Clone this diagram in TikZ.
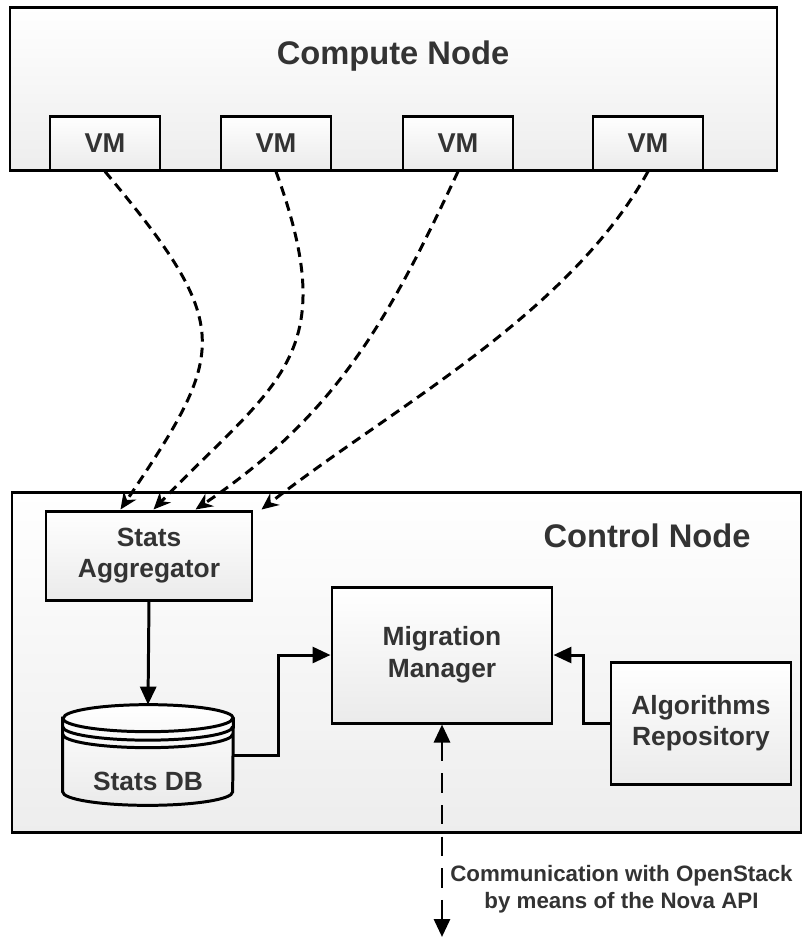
\documentclass[tikz,border=0pt]{standalone}
\usepackage{fontspec}
\setmainfont{Liberation Sans}
\usepackage{xcolor}
\usepackage{tikz}
\usetikzlibrary{arrows.meta,positioning,calc}

\definecolor{txt}{HTML}{333333}

\begin{document}
\begin{tikzpicture}[
  outer/.style={draw, line width=1.7pt, top color=white, bottom color=black!7,
    inner sep=0pt},
  box/.style={draw, line width=1.7pt, top color=white, bottom color=black!8,
    font=\fontsize{15}{18}\selectfont\bfseries, text=txt, align=center,
    inner sep=0pt},
  title/.style={font=\fontsize{18.6}{22}\selectfont\bfseries, text=txt},
  vm/.style={box, minimum width=22mm, minimum height=10.8mm,
    font=\fontsize{15.5}{18}\selectfont\bfseries},
  dbtext/.style={font=\fontsize{15}{18}\selectfont\bfseries, text=txt},
  feed/.style={line width=1.7pt, dash pattern=on 5.5pt off 3.5pt,
    -{Stealth[length=3.4mm,width=3mm]}},
  flow/.style={line width=1.7pt, -{Triangle[length=3.6mm,width=3.2mm]}},
  api/.style={font=\fontsize{12.7}{15.4}\selectfont\bfseries, text=txt,
    align=center, inner sep=0pt},
]
\useasboundingbox (0,0) rectangle (16.06,-18.78);

% --- Compute node ---
\node[outer, minimum width=153.4mm, minimum height=32.6mm] (compute)
  at (7.87,-1.77) {};
\node[title] (ctitle) at (7.86,-1.12) {Compute Node};
\node[vm] (vm1) at (2.1,-2.86) {VM};
\node[vm] (vm2) at (5.52,-2.86) {VM};
\node[vm] (vm3) at (9.16,-2.86) {VM};
\node[vm] (vm4) at (12.96,-2.86) {VM};

% --- Control node ---
\node[outer, minimum width=157.8mm, minimum height=68mm] (control)
  at (8.13,-13.24) {};
\node[title] (ntitle) at (12.94,-10.72) {Control Node};

\node[box, minimum width=41.2mm, minimum height=17.8mm] (agg)
  at (2.98,-11.11) {Stats\\Aggregator};
\node[box, minimum width=44mm, minimum height=27.2mm] (mm)
  at (8.84,-13.1) {Migration\\Manager};
\node[box, minimum width=36mm, minimum height=24.4mm] (ar)
  at (14.02,-14.46) {Algorithms\\Repository};

% stats database (cylinder)
\node[minimum width=34mm, minimum height=20mm, inner sep=0pt] (db)
  at (2.96,-15.1) {};
\draw[line width=1.7pt, top color=white, bottom color=black!8]
  ($(db.north west)+(0,-0.27)$) -- ($(db.south west)+(0,0.27)$)
  arc[start angle=180, end angle=360, x radius=1.7, y radius=0.27]
  -- ($(db.north east)+(0,-0.27)$)
  arc[start angle=0, end angle=180, x radius=1.7, y radius=0.27] -- cycle;
\foreach \dy in {0.27,0.44,0.59}
  \draw[line width=1.7pt] ($(db.north west)+(0,-\dy)$)
    arc[start angle=180, end angle=360, x radius=1.7, y radius=0.27];
\node[dbtext] (dblabel) at (2.96,-15.62) {Stats DB};

% VM statistics
\draw[feed] (vm1.south) to[out=-50, in=56, out looseness=1.53, in looseness=1.44]
  ($(agg.north west)+(1.52,0)$);
\draw[feed] (vm2.south) to[out=-70, in=46, out looseness=1.4, in looseness=1.27]
  ($(agg.north west)+(2.18,0)$);
\draw[feed] (vm3.south) to[out=-115, in=34]
  ($(agg.north west)+(3.02,0)$);
\draw[feed] (vm4.south) to[out=-119, in=38, looseness=0.82]
  ($(agg.north east)+(0.16,0)$);

% internal flow
\draw[flow] (agg.south) -- (db.north);
\draw[flow] (db.east) -- ++(0.9,0) |- (mm.west);
\draw[flow] (ar.west) -- ++(-0.52,0) |- (mm.east);

% OpenStack API
\coordinate (apiend) at (8.84,-18.74);
\draw[line width=1.7pt, dash pattern=on 11pt off 7pt,
  {Triangle[length=3.6mm,width=3.2mm]}-{Triangle[length=3.6mm,width=3.2mm]}]
  (mm.south) -- (apiend);
\node[api, anchor=west] (api) at (9.0,-17.78)
  {Communication with OpenStack\\by means of the Nova API};
\end{tikzpicture}
\end{document}
